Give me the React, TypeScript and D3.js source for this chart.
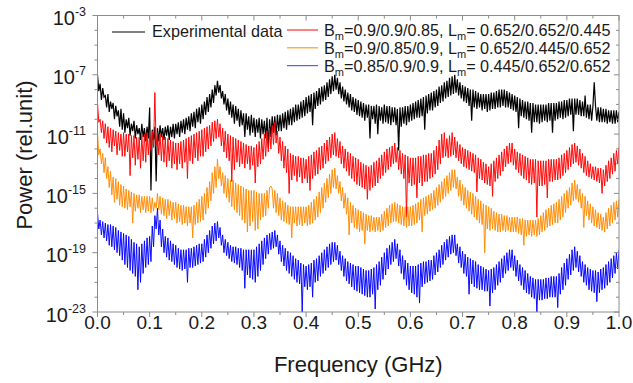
import React, { useEffect, useRef } from 'react';
import * as d3 from 'd3';

// spectra, log10(power) sampled every 0.0025 GHz from 0 to 1.0 (401 points, 20 per row)
const FREQ_STEP = 0.0025;

const experimentalLog = [
  -7.0, -8.1, -7.6, -8.7, -7.9, -8.5, -8.4, -9.2, -8.3, -9.5, -8.8, -9.3, -8.9, -10.0, -9.1, -9.8, -9.4, -10.5, -9.3, -10.7,
  -9.6, -10.9, -10.0, -10.6, -9.9, -11.1, -10.3, -10.8, -10.1, -11.3, -10.4, -11.0, -10.6, -11.4, -10.3, -11.2, -10.6, -11.5, -10.5, -11.3,
  -9.2, -14.8, -10.7, -11.4, -10.5, -14.2, -10.6, -11.5, -10.4, -11.2, -10.6, -11.4, -10.5, -11.1, -10.4, -11.4, -10.5, -11.2, -10.3, -11.3,
  -10.3, -11.0, -10.2, -11.2, -10.1, -10.9, -10.0, -11.0, -9.9, -10.7, -9.8, -10.8, -9.6, -10.5, -9.5, -10.6, -9.3, -10.2, -9.2, -10.3,
  -9.0, -10.0, -8.8, -9.7, -8.5, -9.5, -8.3, -9.2, -8.0, -8.9, -7.7, -8.4, -7.4, -8.2, -7.7, -8.6, -8.1, -9.0, -8.3, -9.4,
  -8.6, -9.7, -8.8, -9.9, -9.0, -10.3, -9.1, -10.1, -9.3, -10.5, -9.4, -10.4, -9.6, -11.2, -9.6, -10.7, -9.8, -11.1, -9.7, -10.9,
  -9.9, -11.2, -10.0, -10.9, -9.9, -11.3, -10.0, -11.0, -10.1, -11.3, -9.9, -11.9, -10.0, -11.2, -9.8, -10.9, -9.8, -11.1, -9.7, -10.8,
  -9.7, -10.8, -9.6, -10.6, -9.5, -10.7, -9.4, -10.4, -9.3, -10.4, -9.2, -10.2, -9.0, -10.1, -9.0, -10.0, -8.8, -9.9, -8.7, -9.8,
  -8.5, -9.6, -8.4, -9.5, -8.3, -10.4, -8.2, -9.3, -8.1, -9.1, -7.9, -9.0, -7.8, -8.8, -7.7, -8.7, -7.5, -8.5, -7.3, -8.3,
  -7.1, -8.1, -7.0, -8.0, -7.2, -8.3, -7.5, -8.6, -7.8, -8.8, -8.0, -9.0, -8.2, -9.2, -8.3, -9.4, -8.5, -9.5, -8.6, -9.7,
  -8.7, -9.8, -8.8, -9.9, -8.9, -10.1, -9.0, -9.9, -9.0, -11.3, -9.1, -10.0, -9.1, -10.3, -9.0, -11.0, -9.1, -10.1, -9.2, -10.3,
  -9.0, -10.2, -9.1, -10.3, -9.1, -10.4, -9.2, -10.2, -9.2, -10.4, -9.3, -12.1, -9.2, -10.5, -9.2, -10.3, -9.1, -10.4, -9.1, -10.2,
  -9.0, -10.1, -8.9, -10.0, -8.8, -9.9, -8.7, -9.9, -8.6, -9.8, -8.5, -10.7, -8.4, -9.6, -8.3, -9.4, -8.2, -9.4, -8.1, -9.2,
  -8.0, -9.1, -7.8, -8.9, -7.7, -8.8, -7.5, -8.6, -7.4, -8.5, -7.2, -8.4, -7.1, -8.3, -7.0, -8.2, -7.3, -8.4, -7.5, -8.6,
  -7.7, -8.8, -7.8, -8.9, -7.9, -9.1, -8.0, -10.1, -8.0, -9.2, -8.1, -9.3, -8.2, -9.2, -8.3, -9.4, -8.3, -9.3, -8.3, -9.5,
  -8.3, -9.4, -8.2, -9.3, -8.2, -9.3, -8.1, -9.2, -8.0, -9.2, -8.0, -9.1, -8.0, -9.2, -8.1, -9.2, -8.2, -9.3, -8.3, -9.4,
  -8.4, -9.5, -8.5, -10.6, -8.6, -9.8, -8.7, -9.9, -8.8, -10.0, -8.8, -10.1, -8.9, -10.9, -8.9, -10.2, -9.0, -10.2, -9.0, -10.3,
  -9.0, -10.2, -9.0, -10.1, -9.0, -10.2, -8.9, -10.1, -8.9, -10.9, -8.9, -10.1, -8.9, -10.0, -8.8, -9.9, -8.8, -10.0, -8.7, -9.9,
  -8.7, -9.8, -8.6, -9.7, -8.6, -10.8, -8.6, -9.7, -8.6, -9.7, -8.7, -9.8, -8.8, -9.8, -8.4, -9.9, -9.0, -10.0, -9.0, -10.1,
  -9.1, -7.5, -9.1, -10.1, -9.2, -10.2, -9.2, -10.2, -9.3, -10.2, -9.3, -10.3, -9.4, -10.2, -9.4, -10.3, -9.4, -10.3, -9.4, -10.2,
  -9.5,
];

const redLog = [
  -8.9, -10.2, -10.0, -10.9, -10.1, -11.3, -10.3, -11.6, -10.5, -11.9, -10.6, -12.2, -10.7, -11.8, -10.8, -12.4, -10.9, -12.1, -11.0, -12.5,
  -10.9, -12.5, -11.0, -12.2, -11.0, -13.8, -11.1, -12.6, -11.1, -13.1, -11.2, -12.7, -11.2, -13.3, -11.1, -12.8, -11.0, -12.9, -10.9, -12.4,
  -10.9, -12.1, -10.8, -11.9, -8.2, -11.8, -10.9, -12.4, -11.0, -12.8, -11.1, -12.9, -11.2, -13.2, -11.3, -12.8, -11.4, -13.3, -11.5, -13.0,
  -11.6, -13.4, -11.6, -13.0, -11.5, -13.3, -11.4, -12.9, -11.3, -14.0, -11.2, -12.8, -11.1, -13.0, -11.0, -12.6, -10.9, -12.8, -10.8, -12.5,
  -10.7, -12.5, -10.6, -12.2, -10.5, -12.0, -10.4, -11.8, -10.2, -11.5, -10.1, -11.3, -10.0, -11.2, -10.3, -11.8, -10.6, -12.2, -10.8, -12.6,
  -11.0, -12.8, -11.1, -14.2, -11.2, -13.4, -11.3, -12.9, -11.4, -13.2, -11.5, -13.0, -11.6, -13.3, -11.7, -13.0, -11.8, -13.4, -11.8, -13.1,
  -11.9, -14.3, -11.7, -13.2, -11.5, -13.0, -11.3, -12.7, -11.0, -12.5, -10.8, -12.2, -10.6, -12.0, -10.4, -11.7, -10.2, -11.6, -10.8, -12.3,
  -11.2, -12.8, -11.5, -13.3, -11.8, -13.6, -12.0, -15.0, -12.3, -14.1, -12.4, -13.8, -12.5, -14.2, -12.5, -13.9, -12.6, -14.3, -12.6, -14.0,
  -12.7, -14.3, -12.5, -14.8, -12.4, -14.0, -12.2, -13.8, -12.1, -13.7, -11.9, -13.4, -11.8, -13.3, -11.6, -13.0, -11.4, -12.8, -11.2, -12.6,
  -11.0, -12.4, -10.9, -12.5, -11.3, -12.6, -11.5, -13.0, -11.8, -13.3, -12.0, -13.5, -12.2, -13.8, -12.3, -14.0, -12.5, -14.2, -12.6, -14.4,
  -12.7, -14.5, -12.9, -14.6, -13.0, -14.7, -13.1, -15.4, -13.2, -14.8, -13.1, -14.6, -12.9, -14.5, -12.8, -14.3, -12.6, -14.0, -12.4, -13.8,
  -12.2, -13.6, -12.0, -13.4, -11.9, -13.2, -11.8, -13.0, -11.6, -12.9, -11.9, -13.4, -12.1, -13.7, -12.3, -14.0, -12.4, -16.6, -12.5, -14.3,
  -12.6, -14.5, -12.6, -14.4, -12.6, -15.3, -12.5, -14.3, -12.5, -14.5, -12.4, -14.2, -12.4, -14.2, -12.3, -14.0, -12.3, -13.9, -12.1, -13.7,
  -11.8, -13.4, -11.4, -13.0, -11.0, -12.6, -10.9, -12.5, -11.3, -12.6, -11.1, -12.5, -10.9, -12.4, -11.2, -12.6, -11.5, -12.8, -11.7, -13.0,
  -11.9, -13.2, -12.0, -13.3, -12.1, -13.4, -12.2, -13.5, -12.3, -13.6, -12.4, -14.9, -12.6, -14.0, -12.7, -14.1, -12.9, -14.3, -13.0, -14.4,
  -13.2, -14.5, -13.0, -15.2, -12.8, -14.2, -12.6, -14.0, -12.4, -13.8, -12.2, -13.5, -12.0, -13.2, -11.8, -13.0, -11.6, -12.9, -11.6, -13.1,
  -12.0, -13.4, -12.2, -13.6, -12.3, -13.8, -12.4, -14.0, -12.5, -14.1, -12.6, -14.3, -12.7, -14.4, -12.7, -14.3, -12.7, -16.6, -12.8, -14.5,
  -12.8, -14.5, -12.8, -14.4, -12.8, -15.3, -12.7, -14.2, -12.7, -14.2, -12.7, -14.1, -12.7, -14.1, -12.6, -14.0, -12.4, -13.8, -12.3, -13.6,
  -12.1, -13.4, -11.9, -13.2, -11.7, -13.0, -11.6, -12.9, -11.8, -13.1, -12.0, -13.3, -12.3, -13.6, -12.5, -13.8, -12.8, -13.9, -13.0, -14.0,
  -13.2, -14.1, -13.2, -14.2, -13.3, -14.3, -13.3, -15.0, -13.4, -14.5, -13.1, -14.2, -12.8, -14.0, -12.6, -13.7, -12.3, -13.5, -12.1, -13.0,
  -11.9,
];

const orangeLog = [
  -10.9, -12.4, -12.0, -13.0, -12.3, -13.6, -12.6, -14.0, -13.2, -14.6, -13.5, -15.1, -13.9, -15.6, -14.0, -15.4, -14.2, -15.8, -14.4, -15.9,
  -14.5, -16.0, -14.7, -16.1, -14.8, -15.9, -14.9, -17.0, -15.0, -16.2, -15.1, -16.0, -15.1, -16.3, -15.2, -16.1, -15.2, -16.3, -15.2, -16.2,
  -15.2, -16.3, -15.3, -16.2, -15.6, -16.0, -15.0, -16.1, -15.2, -16.4, -15.3, -16.5, -15.4, -16.7, -15.4, -16.5, -15.5, -16.8, -15.6, -16.7,
  -15.6, -17.0, -15.7, -16.9, -15.8, -17.1, -15.8, -17.0, -15.9, -17.2, -15.9, -17.0, -15.9, -18.0, -15.8, -17.1, -15.6, -17.0, -15.4, -16.9,
  -15.2, -16.8, -15.0, -16.4, -14.6, -16.0, -14.2, -15.5, -13.6, -15.0, -13.2, -14.6, -12.7, -14.0, -13.2, -14.5, -13.6, -15.0, -13.8, -15.3,
  -14.0, -15.6, -14.1, -15.9, -14.1, -16.1, -14.3, -16.3, -14.4, -16.5, -14.5, -16.8, -14.6, -17.0, -14.7, -17.6, -14.8, -17.2, -14.8, -16.9,
  -14.8, -17.5, -14.9, -17.4, -15.0, -16.8, -15.0, -16.6, -15.0, -16.5, -14.8, -16.0, -14.6, -14.5, -14.7, -16.0, -14.8, -16.3, -15.0, -16.5,
  -15.3, -16.8, -15.5, -16.9, -15.6, -17.0, -15.8, -17.1, -15.9, -18.0, -15.9, -17.0, -15.9, -17.2, -15.9, -17.1, -15.9, -17.2, -15.9, -17.0,
  -15.9, -17.2, -15.8, -17.1, -15.6, -17.0, -15.4, -16.8, -15.2, -16.6, -14.9, -16.3, -14.6, -16.0, -14.3, -15.6, -14.0, -15.3, -13.7, -15.0,
  -13.4, -14.6, -13.3, -14.7, -13.8, -15.0, -14.2, -15.5, -14.6, -16.0, -15.0, -16.4, -15.3, -17.8, -15.6, -17.0, -15.8, -17.3, -16.0, -17.4,
  -16.1, -17.6, -16.2, -17.5, -16.3, -18.4, -16.4, -17.5, -16.5, -17.6, -16.5, -17.5, -16.6, -17.6, -16.6, -17.5, -16.6, -17.6, -16.4, -17.5,
  -16.2, -17.3, -16.0, -17.2, -15.8, -17.0, -15.7, -16.9, -15.6, -16.9, -15.7, -17.0, -15.8, -17.1, -15.9, -17.2, -15.9, -17.3, -15.9, -17.2,
  -15.9, -17.2, -15.8, -17.1, -15.7, -17.0, -15.6, -16.8, -15.4, -17.6, -15.3, -16.5, -15.2, -16.4, -15.1, -16.2, -15.0, -16.1, -14.8, -16.0,
  -14.6, -15.8, -14.4, -15.6, -14.2, -15.4, -14.0, -15.2, -13.8, -15.0, -13.6, -14.8, -13.4, -14.6, -13.4, -14.7, -13.9, -15.2, -14.1, -15.5,
  -14.4, -15.8, -14.6, -16.0, -14.8, -16.2, -14.9, -16.4, -15.0, -16.6, -15.2, -16.8, -15.4, -17.0, -15.5, -17.1, -15.7, -19.0, -15.8, -17.4,
  -15.9, -17.5, -16.0, -17.4, -16.2, -17.5, -16.3, -17.6, -16.4, -17.6, -16.4, -17.5, -16.5, -17.6, -16.5, -17.5, -16.6, -17.6, -16.6, -17.6,
  -16.6, -17.6, -16.6, -17.7, -16.7, -17.8, -16.7, -18.5, -16.8, -17.9, -16.8, -17.8, -16.8, -17.9, -16.8, -17.8, -16.8, -17.9, -16.7, -17.8,
  -16.5, -17.6, -16.3, -17.5, -16.1, -17.3, -16.0, -17.2, -15.8, -17.1, -15.7, -17.0, -15.6, -17.0, -15.4, -16.8, -15.2, -16.6, -15.0, -16.3,
  -14.8, -16.0, -14.6, -15.8, -14.3, -15.5, -14.1, -15.4, -14.4, -15.6, -14.7, -16.0, -15.0, -17.3, -15.2, -16.5, -15.5, -16.8, -15.7, -17.0,
  -15.9, -17.2, -16.1, -17.3, -16.3, -17.4, -16.4, -17.5, -16.6, -17.6, -16.3, -17.4, -16.0, -17.2, -15.8, -17.0, -15.6, -16.8, -15.5, -16.6,
  -15.4,
];

const blueLog = [
  -16.3, -17.4, -16.8, -17.8, -16.9, -18.0, -17.0, -18.2, -17.1, -18.5, -17.1, -18.6, -17.2, -18.8, -17.3, -19.0, -17.5, -19.2, -17.6, -19.5,
  -17.7, -19.8, -17.8, -20.0, -17.9, -20.2, -18.1, -20.4, -18.3, -20.6, -18.4, -21.5, -18.6, -21.0, -18.4, -20.4, -18.2, -20.0, -18.0, -19.8,
  -17.9, -19.6, -17.2, -18.6, -16.5, -17.4, -16.0, -17.8, -16.8, -18.6, -17.4, -19.0, -17.9, -19.3, -18.0, -19.5, -18.2, -19.6, -18.4, -19.8,
  -18.5, -20.0, -18.7, -20.1, -18.8, -20.2, -18.8, -20.1, -18.8, -21.0, -18.7, -20.0, -18.7, -20.0, -18.6, -19.9, -18.5, -19.8, -18.4, -19.7,
  -18.4, -19.6, -18.1, -19.3, -17.8, -19.0, -17.5, -18.7, -17.2, -18.4, -17.0, -18.2, -16.9, -18.0, -17.3, -18.5, -17.8, -19.0, -18.1, -19.2,
  -18.3, -19.4, -18.5, -19.6, -18.6, -19.7, -18.6, -19.8, -18.7, -20.0, -18.7, -20.2, -18.8, -21.4, -18.8, -20.5, -18.8, -20.7, -18.8, -20.8,
  -18.8, -21.0, -18.6, -20.6, -18.4, -20.2, -18.2, -19.8, -18.0, -19.4, -17.8, -19.1, -17.7, -18.8, -17.6, -18.7, -17.5, -18.6, -17.8, -19.1,
  -18.2, -19.6, -18.5, -19.9, -18.7, -20.2, -18.9, -20.4, -19.0, -20.6, -19.2, -20.8, -19.4, -21.0, -19.5, -21.1, -19.7, -23.0, -19.8, -21.3,
  -19.9, -21.5, -19.8, -21.3, -19.7, -22.0, -19.5, -21.0, -19.4, -20.9, -19.2, -20.6, -19.0, -20.4, -18.8, -20.2, -18.6, -20.0, -18.4, -19.8,
  -18.3, -19.6, -18.3, -19.5, -18.5, -19.8, -18.9, -20.2, -19.2, -20.6, -19.4, -20.9, -19.6, -21.1, -19.7, -21.3, -19.8, -21.5, -19.9, -21.6,
  -19.9, -21.7, -20.0, -21.8, -20.1, -21.9, -20.2, -22.0, -20.2, -22.0, -20.1, -21.8, -20.0, -22.8, -19.8, -21.5, -19.6, -21.2, -19.3, -20.8,
  -19.0, -20.5, -18.7, -20.1, -18.5, -19.8, -18.3, -19.6, -18.1, -19.4, -18.4, -19.9, -18.8, -20.4, -19.2, -20.8, -19.5, -21.2, -19.7, -21.5,
  -19.9, -21.7, -19.9, -21.8, -19.9, -22.0, -19.8, -22.4, -19.7, -21.3, -19.6, -21.1, -19.6, -21.0, -19.5, -20.9, -19.5, -20.8, -19.2, -20.5,
  -19.0, -20.3, -18.8, -20.0, -18.5, -19.8, -18.3, -19.5, -18.1, -19.3, -17.9, -19.1, -17.8, -19.0, -17.8, -19.2, -18.4, -19.7, -18.6, -20.0,
  -18.9, -20.4, -19.1, -20.6, -19.3, -21.8, -19.4, -21.1, -19.5, -21.3, -19.6, -21.4, -19.8, -21.5, -19.9, -21.5, -20.0, -21.6, -20.1, -21.6,
  -20.2, -22.6, -20.1, -21.7, -20.0, -21.5, -19.8, -21.2, -19.6, -21.0, -19.4, -20.7, -19.2, -20.4, -19.0, -20.2, -18.8, -20.0, -18.8, -20.2,
  -19.2, -20.6, -19.5, -20.9, -19.8, -21.2, -20.0, -21.5, -20.2, -21.7, -20.4, -21.8, -20.6, -22.0, -20.7, -22.1, -20.8, -23.0, -20.8, -22.2,
  -20.8, -22.2, -20.8, -22.1, -20.7, -22.1, -20.7, -22.0, -20.6, -22.0, -20.6, -22.0, -20.6, -22.7, -20.4, -21.8, -20.0, -21.5, -19.7, -21.2,
  -19.4, -20.8, -19.1, -20.5, -18.8, -20.2, -18.6, -20.0, -18.9, -20.3, -19.2, -20.6, -19.6, -21.0, -19.8, -21.2, -20.0, -21.5, -20.1, -21.6,
  -20.2, -21.7, -20.2, -22.3, -20.3, -21.7, -20.1, -21.5, -20.0, -21.4, -19.8, -21.2, -19.6, -21.0, -19.4, -20.7, -19.2, -20.4, -19.0, -20.1,
  -18.8,
];

const xTicks = [0, 0.1, 0.2, 0.3, 0.4, 0.5, 0.6, 0.7, 0.8, 0.9, 1.0];
const yTickExps = [-3, -7, -11, -15, -19, -23];

const seriesList = [
  { name: 'exp', values: experimentalLog, color: '#000000', width: 1.2 },
  { name: 'red', values: redLog, color: '#ff0000', width: 0.95 },
  { name: 'orange', values: orangeLog, color: '#ff8a00', width: 0.95 },
  { name: 'blue', values: blueLog, color: '#0000ff', width: 0.95 },
];

const legendRows = [
  { color: '#ff3030', b: '0.9/0.9/0.85', l: '0.652/0.652/0.445' },
  { color: '#ff9a20', b: '0.9/0.85/0.9', l: '0.652/0.445/0.652' },
  { color: '#5a5aff', b: '0.85/0.9/0.9', l: '0.445/0.652/0.652' },
];

const W = 633;
const H = 383;
const FONT = '"Liberation Sans", Arial, sans-serif';

export default function App() {
  const svgRef = useRef<SVGSVGElement>(null);

  useEffect(() => {
    const svg = d3.select(svgRef.current);
    svg.selectAll('*').remove();

    const margin = { top: 15.5, right: 14, bottom: 71, left: 97.5 };
    const x = d3.scaleLinear().domain([0, 1]).range([margin.left, W - margin.right]);
    const y = d3.scaleLog().domain([1e-23, 1e-3]).range([H - margin.bottom, margin.top]);
    const x0 = margin.left, x1 = W - margin.right;
    const y0 = H - margin.bottom, y1 = margin.top;
    const axisColor = '#8c8c8c';

    svg.append('rect').attr('width', W).attr('height', H).attr('fill', '#fff');

    svg.append('defs').append('clipPath').attr('id', 'plot-clip')
      .append('rect').attr('x', x0).attr('y', y1).attr('width', x1 - x0).attr('height', y0 - y1);

    // spectra
    const line = d3.line<number>()
      .x((_, i) => x(i * FREQ_STEP))
      .y(v => y(Math.pow(10, v)));

    const plot = svg.append('g').attr('clip-path', 'url(#plot-clip)');
    seriesList.forEach(s => {
      plot.append('path')
        .datum(s.values)
        .attr('fill', 'none')
        .attr('stroke', s.color)
        .attr('stroke-width', s.width)
        .attr('d', line);
    });

    // frame + ticks (left/bottom outward, top/right inward)
    svg.append('rect')
      .attr('x', x0).attr('y', y1).attr('width', x1 - x0).attr('height', y0 - y1)
      .attr('fill', 'none').attr('stroke', axisColor).attr('stroke-width', 1);

    const ticks = svg.append('g').attr('stroke', axisColor).attr('stroke-width', 1);
    d3.range(0, 21).forEach(i => {
      const len = i % 2 === 0 ? 5 : 3;
      const px = x(i * 0.05);
      ticks.append('line').attr('x1', px).attr('x2', px).attr('y1', y0).attr('y2', y0 + len);
      ticks.append('line').attr('x1', px).attr('x2', px).attr('y1', y1).attr('y2', y1 + len);
    });
    d3.range(-23, -2).forEach(e => {
      const len = (e + 23) % 4 === 0 ? 5 : 3;
      const py = y(Math.pow(10, e));
      ticks.append('line').attr('x1', x0).attr('x2', x0 - len).attr('y1', py).attr('y2', py);
      ticks.append('line').attr('x1', x1).attr('x2', x1 - len).attr('y1', py).attr('y2', py);
    });

    // tick labels
    svg.append('g').selectAll('text')
      .data(xTicks)
      .join('text')
      .attr('x', d => x(d))
      .attr('y', 329)
      .attr('text-anchor', 'middle')
      .attr('font-family', FONT)
      .attr('font-size', 19)
      .attr('fill', '#1a1a1a')
      .text(d => d.toFixed(1));

    const yl = svg.append('g').attr('font-family', FONT).attr('fill', '#1a1a1a');
    yTickExps.forEach(e => {
      const t = yl.append('text')
        .attr('x', 86)
        .attr('y', y(Math.pow(10, e)) + 9.5)
        .attr('text-anchor', 'end')
        .attr('font-size', 20);
      t.append('tspan').text('10');
      t.append('tspan').attr('font-size', 12.5).attr('dy', -9).text(String(e));
    });

    // axis titles
    svg.append('text')
      .attr('x', (x0 + x1) / 2)
      .attr('y', 372)
      .attr('text-anchor', 'middle')
      .attr('font-family', FONT)
      .attr('font-size', 22)
      .attr('fill', '#1a1a1a')
      .text('Frequency (GHz)');

    svg.append('text')
      .attr('transform', 'translate(32,155) rotate(-90)')
      .attr('text-anchor', 'middle')
      .attr('font-family', FONT)
      .attr('font-size', 22)
      .attr('fill', '#1a1a1a')
      .text('Power (rel.unit)');

    // legend
    const lg = svg.append('g').attr('font-family', FONT).attr('font-size', 16.2).attr('fill', '#1a1a1a');
    lg.append('line').attr('x1', 112).attr('x2', 145).attr('y1', 32).attr('y2', 32)
      .attr('stroke', '#000').attr('stroke-width', 1);
    lg.append('text').attr('x', 152).attr('y', 37).text('Experimental data');

    legendRows.forEach((r, i) => {
      const base = 36 + i * 17.8;
      lg.append('line').attr('x1', 287).attr('x2', 318).attr('y1', base - 6).attr('y2', base - 6)
        .attr('stroke', r.color).attr('stroke-width', 1.2);
      const t = lg.append('text').attr('x', 324).attr('y', base);
      t.append('tspan').text('B');
      t.append('tspan').attr('font-size', 11).attr('dy', 4).text('m');
      t.append('tspan').attr('dy', -4).text(`=${r.b}, L`);
      t.append('tspan').attr('font-size', 11).attr('dy', 4).text('m');
      t.append('tspan').attr('dy', -4).text(`= ${r.l}`);
    });
  }, []);

  return (
    <div style={{ position: 'fixed', left: 0, top: 0 }}>
      <svg ref={svgRef} width={W} height={H} style={{ display: 'block' }} />
    </div>
  );
}
